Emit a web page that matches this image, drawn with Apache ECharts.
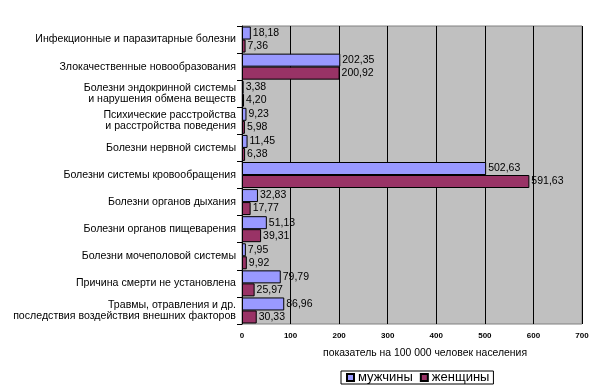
<!DOCTYPE html>
<html><head><meta charset="utf-8">
<script src="https://cdn.jsdelivr.net/npm/echarts@6/dist/echarts.min.js"></script>
<style>html,body{margin:0;padding:0;background:#fff}#c{width:600px;height:386px}</style>
</head><body><div id="c"></div>
<script>
const categories = [
  'Инфекционные и паразитарные болезни',
  'Злокачественные новообразования',
  'Болезни эндокринной системы\nи нарушения обмена веществ',
  'Психические расстройства\nи расстройства поведения',
  'Болезни нервной системы',
  'Болезни системы кровообращения',
  'Болезни органов дыхания',
  'Болезни органов пищеварения',
  'Болезни мочеполовой системы',
  'Причина смерти не установлена',
  'Травмы, отравления и др.\nпоследствия воздействия внешних факторов'
];
const men = [18.18, 202.35, 3.38, 9.23, 11.45, 502.63, 32.83, 51.13, 7.95, 79.79, 86.96];
const women = [7.36, 200.92, 4.20, 5.98, 6.38, 591.63, 17.77, 39.31, 9.92, 25.97, 30.33];
const xTicks = [0, 100, 200, 300, 400, 500, 600, 700];
const seriesNames = ['мужчины', 'женщины'];
const axisTitle = 'показатель на 100 000 человек населения';

const FONT = 'Arial, "Liberation Sans", sans-serif';
const fmt = p => p.value.toFixed(2).replace('.', ',');
const chart = echarts.init(document.getElementById('c'), null, {renderer: 'canvas'});
const mkSeries = (name, data, color) => ({
  name, type: 'bar', data,
  barWidth: 13, barGap: '0%',
  itemStyle: {color, borderColor: '#000', borderWidth: 1},
  label: {show: true, position: 'right', distance: 2, formatter: fmt,
          fontFamily: FONT, fontSize: 10.5, color: '#000'},
  emphasis: {disabled: true}, animation: false
});
chart.setOption({
  animation: false,
  backgroundColor: '#fff',
  title: {text: axisTitle, left: 323, top: 348, padding: 0,
          textStyle: {fontFamily: FONT, fontSize: 10.4, fontWeight: 'normal', color: '#000'}},
  legend: {
    data: seriesNames, left: 341, top: 371,
    orient: 'horizontal', itemWidth: 7, itemHeight: 7, itemGap: 7,
    padding: [0, 4, 0, 5], borderColor: '#000', borderWidth: 1,
    textStyle: {fontFamily: FONT, fontSize: 13, lineHeight: 11, color: '#000', padding: [0, 0, 0, -1]},
    icon: 'rect'
  },
  grid: {left: 242, right: 18, top: 26, bottom: 62, show: true,
         backgroundColor: '#c0c0c0', borderColor: '#808080', borderWidth: 1},
  xAxis: {
    type: 'value', min: 0, max: 700, interval: 100,
    axisLine: {show: false}, axisTick: {show: false},
    splitLine: {show: true, lineStyle: {color: '#000', width: 1}},
    axisLabel: {fontFamily: FONT, fontSize: 8, fontWeight: 'bold', color: '#000', margin: 8,
                formatter: v => xTicks.includes(v) ? String(v) : ''}
  },
  yAxis: {
    type: 'category', data: categories, inverse: true,
    axisLine: {show: true, lineStyle: {color: '#000'}},
    axisTick: {show: true, length: 5, lineStyle: {color: '#000'}},
    axisLabel: {fontFamily: FONT, fontSize: 10.6, color: '#000', margin: 6, lineHeight: 11, align: 'right'},
    splitLine: {show: false}
  },
  series: [mkSeries(seriesNames[0], men, '#9999ff'), mkSeries(seriesNames[1], women, '#993366')]
});
</script></body></html>
